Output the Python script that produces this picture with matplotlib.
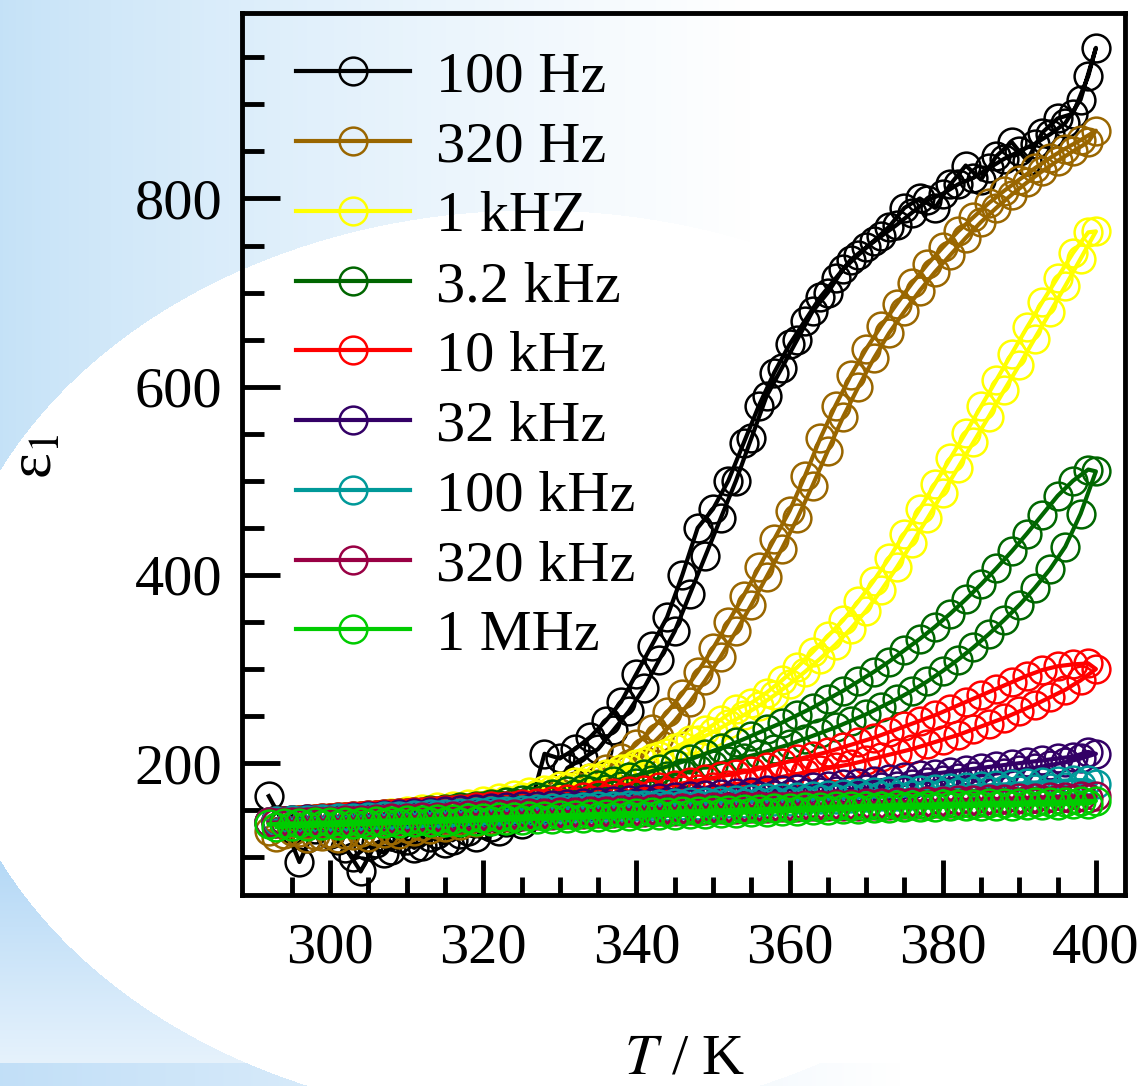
import numpy as np
import matplotlib
matplotlib.use("Agg")
import matplotlib.pyplot as plt
from matplotlib.ticker import MultipleLocator, FixedLocator

plt.rcParams["font.family"] = ["Liberation Serif", "DejaVu Serif"]
plt.rcParams["mathtext.fontset"] = "stix"

# heating run, K
T_up = [292, 294, 296, 298, 300, 302, 304, 306, 308, 310, 312, 314, 316, 318,
        320, 322, 324, 326, 328, 330, 332, 334, 336, 338, 340, 342, 344, 346,
        348, 350, 352, 354, 356, 358, 360, 362, 364, 366, 368, 370, 372, 374,
        376, 378, 380, 382, 384, 386, 388, 390, 392, 394, 396, 398, 400]
# second run, K
T_dn = [293, 295, 297, 299, 301, 303, 305, 307, 309, 311, 313, 315, 317, 319,
        321, 323, 325, 327, 329, 331, 333, 335, 337, 339, 341, 343, 345, 347,
        349, 351, 353, 355, 357, 359, 361, 363, 365, 367, 369, 371, 373, 375,
        377, 379, 381, 383, 385, 387, 389, 391, 393, 395, 397, 399]

labels = ["100 Hz", "320 Hz", "1 kHZ", "3.2 kHz", "10 kHz",
          "32 kHz", "100 kHz", "320 kHz", "1 MHz"]
colors = ["#000000", "#996600", "#ffff00", "#006600", "#ff0000",
          "#330066", "#009999", "#990044", "#00cc00"]

# eps_1 on T_up
up_100Hz = [165, 135, 95, 130, 125, 110, 85, 115, 108, 118, 112, 125, 118, 128,
            135, 128, 142, 150, 210, 205, 215, 228, 245, 265, 295, 325, 355, 400,
            450, 470, 500, 540, 580, 615, 645, 670, 695, 715, 735, 748, 760, 772,
            785, 798, 805, 815, 822, 832, 842, 850, 858, 868, 880, 905, 960]
up_320Hz = [128, 125, 127, 124, 126, 125, 127, 128, 129, 131, 133, 135, 137, 140,
            143, 147, 151, 156, 162, 168, 176, 184, 194, 206, 220, 236, 254, 274,
            297, 322, 350, 378, 408, 438, 468, 505, 545, 580, 612, 640, 665, 688,
            710, 730, 748, 765, 780, 795, 808, 820, 832, 843, 853, 862, 872]
up_1kHz = [138, 139, 140, 141, 142, 143, 144, 145, 147, 149, 151, 153, 155, 157,
           160, 163, 166, 169, 172, 176, 180, 184, 189, 194, 199, 205, 211, 218,
           225, 233, 242, 251, 261, 272, 284, 297, 311, 326, 343, 362, 384, 408,
           434, 460, 487, 514, 541, 568, 596, 623, 651, 679, 707, 736, 765]
up_3k2Hz = [138, 139, 140, 141, 142, 143, 144, 145, 146, 147, 148, 149, 151, 152,
            154, 156, 158, 160, 162, 164, 167, 170, 173, 176, 179, 182, 186, 190,
            194, 198, 202, 206, 210, 215, 220, 226, 232, 238, 245, 252, 260, 268,
            277, 287, 298, 310, 323, 337, 352, 368, 386, 406, 430, 465, 510]
up_10kHz = [138, 139, 140, 141, 142, 143, 144, 145, 146, 147, 148, 149, 150, 151,
            152, 153, 154, 155, 157, 158, 159, 161, 162, 164, 166, 167, 169, 171,
            173, 175, 177, 179, 182, 184, 187, 190, 193, 196, 199, 203, 207, 211,
            215, 220, 225, 230, 236, 242, 248, 255, 262, 270, 278, 288, 300]
up_32kHz = [138, 139, 139, 140, 141, 141, 142, 143, 143, 144, 145, 146, 147, 148,
            149, 150, 150, 151, 152, 153, 154, 155, 156, 157, 158, 158, 159, 160,
            161, 162, 163, 164, 165, 166, 167, 168, 169, 170, 172, 173, 175, 176,
            178, 180, 182, 184, 186, 188, 190, 193, 195, 198, 201, 205, 210]
up_100kHz = [138, 138, 139, 140, 140, 141, 141, 142, 143, 143, 144, 145, 145, 146,
             147, 148, 148, 149, 150, 150, 151, 152, 152, 153, 154, 154, 155, 156,
             156, 157, 158, 158, 159, 160, 160, 161, 162, 162, 163, 164, 165, 165,
             166, 167, 168, 169, 170, 170, 171, 172, 173, 174, 175, 177, 178]
up_320kHz = [137, 137, 138, 139, 139, 140, 140, 141, 142, 142, 143, 143, 144, 145,
             145, 146, 146, 147, 147, 148, 148, 149, 149, 150, 150, 151, 151, 152,
             152, 153, 153, 154, 154, 155, 155, 156, 156, 157, 157, 158, 158, 159,
             159, 160, 160, 161, 161, 162, 162, 163, 163, 164, 164, 165, 165]
up_1MHz = [135, 136, 136, 137, 137, 138, 138, 139, 139, 140, 140, 141, 141, 142,
           142, 143, 143, 144, 144, 145, 145, 146, 146, 147, 147, 148, 148, 149,
           149, 150, 150, 151, 151, 152, 152, 153, 153, 154, 154, 155, 155, 156,
           156, 156, 157, 157, 157, 158, 158, 158, 159, 159, 159, 160, 160]

# eps_1 on T_dn
dn_100Hz = [140, 130, 120, 135, 118, 100, 112, 105, 120, 110, 122, 115, 125, 122,
            132, 138, 135, 150, 165, 195, 205, 215, 235, 255, 280, 310, 340, 380,
            420, 460, 500, 545, 590, 620, 650, 680, 700, 725, 740, 755, 770, 790,
            800, 790, 815, 835, 820, 845, 860, 840, 870, 885, 890, 930]
dn_320Hz = [122, 128, 120, 123, 121, 124, 122, 126, 125, 128, 130, 132, 134, 137,
            140, 143, 147, 152, 157, 163, 170, 178, 188, 199, 212, 228, 245, 265,
            288, 313, 340, 368, 398, 428, 460, 495, 532, 568, 600, 630, 657, 680,
            702, 722, 740, 758, 775, 790, 804, 817, 829, 840, 850, 860]
dn_1kHz = [137, 138, 139, 140, 141, 142, 143, 144, 145, 147, 149, 151, 153, 156,
           158, 161, 164, 167, 171, 175, 179, 184, 189, 195, 201, 208, 216, 225,
           235, 246, 258, 264, 275, 288, 302, 318, 335, 352, 372, 394, 418, 444,
           470, 497, 524, 551, 579, 607, 635, 663, 690, 716, 742, 764]
dn_3k2Hz = [139, 140, 141, 142, 143, 144, 145, 146, 147, 148, 150, 151, 153, 155,
            157, 159, 161, 164, 167, 170, 173, 177, 181, 185, 189, 194, 199, 204,
            210, 216, 222, 229, 236, 243, 251, 259, 268, 277, 287, 297, 308, 320,
            332, 345, 359, 374, 390, 407, 425, 444, 464, 484, 500, 512]
dn_10kHz = [139, 140, 141, 142, 143, 144, 145, 146, 147, 148, 149, 150, 151, 153,
            154, 155, 157, 158, 160, 162, 164, 166, 168, 170, 172, 175, 177, 180,
            183, 186, 189, 192, 196, 200, 204, 208, 212, 217, 222, 227, 233, 239,
            245, 251, 258, 265, 272, 279, 286, 293, 299, 303, 305, 306]
dn_32kHz = [139, 140, 141, 141, 142, 143, 144, 145, 146, 147, 148, 149, 150, 151,
            152, 153, 154, 155, 156, 157, 158, 159, 160, 161, 162, 163, 164, 165,
            166, 167, 168, 169, 171, 172, 173, 175, 176, 178, 179, 181, 183, 185,
            187, 189, 191, 193, 195, 197, 199, 201, 203, 205, 207, 212]
dn_100kHz = [139, 140, 140, 141, 142, 142, 143, 144, 144, 145, 146, 146, 147, 148,
             149, 149, 150, 151, 152, 152, 153, 154, 155, 156, 156, 157, 158, 159,
             159, 160, 161, 162, 163, 163, 164, 165, 166, 167, 168, 169, 170, 171,
             172, 173, 174, 175, 176, 177, 178, 179, 180, 181, 182, 182]
dn_320kHz = [136, 137, 137, 138, 138, 139, 139, 140, 140, 141, 141, 142, 142, 143,
             143, 144, 144, 145, 145, 146, 146, 147, 147, 148, 148, 149, 149, 150,
             150, 151, 151, 152, 152, 153, 153, 154, 154, 155, 155, 156, 156, 157,
             157, 158, 158, 159, 159, 160, 160, 161, 161, 162, 162, 163]
dn_1MHz = [132, 133, 133, 134, 134, 135, 135, 136, 136, 137, 137, 138, 138, 139,
           139, 140, 140, 141, 141, 142, 142, 143, 143, 144, 144, 145, 145, 146,
           146, 147, 147, 148, 148, 149, 149, 150, 150, 151, 151, 152, 152, 153,
           153, 153, 154, 154, 155, 155, 155, 156, 156, 156, 157, 157]

runs_up = [up_100Hz, up_320Hz, up_1kHz, up_3k2Hz, up_10kHz,
           up_32kHz, up_100kHz, up_320kHz, up_1MHz]
runs_dn = [dn_100Hz, dn_320Hz, dn_1kHz, dn_3k2Hz, dn_10kHz,
           dn_32kHz, dn_100kHz, dn_320kHz, dn_1MHz]


def background(fig, W=1144, H=1086):
    # light-blue slide template behind the plot
    yy, xx = np.mgrid[0:H, 0:W].astype(float)
    white = np.ones(3)
    t = np.clip(xx / 750.0, 0, 1) ** 0.8
    img = np.array([0.77, 0.885, 0.97]) * (1 - t)[..., None] + white * t[..., None]
    low = yy > 665
    s = np.clip((yy - 860) / 230.0, 0, 1) * 0.75
    s = np.maximum(s, np.clip(xx / 600.0, 0, 1))
    lowimg = np.array([0.71, 0.85, 0.965]) * (1 - s)[..., None] + white * s[..., None]
    img[low] = lowimg[low]
    band = yy >= 1063
    b = np.clip(xx / 900.0, 0, 1)
    bandimg = np.array([0.76, 0.875, 0.97]) * (1 - b)[..., None] + white * b[..., None]
    img[band] = bandimg[band]
    inside = ((xx - 533) / 590.0) ** 2 + ((yy - 665) / 455.0) ** 2 < 1
    img[inside] = 1.0
    bg = fig.add_axes([0, 0, 1, 1], zorder=-10)
    bg.imshow(img, aspect="auto", interpolation="bilinear")
    bg.axis("off")


fig = plt.figure(figsize=(11.44, 10.86), dpi=100)
background(fig)
ax = fig.add_axes([0.2115, 0.1759, 0.7719, 0.8121])
ax.patch.set_alpha(0)

for up, dn, lab, col in zip(runs_up, runs_dn, labels, colors):
    x = T_up + T_dn[::-1]
    y = up + dn[::-1]
    ax.plot(x, y, color=col, lw=3, marker="o", ms=20, mfc="none",
            mec=col, mew=1.8, label=lab)

ax.set_xlim(288.5, 403.8)
ax.set_ylim(60, 997)
ax.xaxis.set_major_locator(MultipleLocator(20))
ax.xaxis.set_minor_locator(FixedLocator(range(295, 405, 5)))
ax.yaxis.set_major_locator(MultipleLocator(200))
ax.yaxis.set_minor_locator(MultipleLocator(50))
ax.tick_params(which="both", direction="in", width=3.5, labelsize=42,
               top=False, right=False)
ax.tick_params(axis="y", which="major", length=27, pad=14)
ax.tick_params(axis="y", which="minor", length=16)
ax.tick_params(axis="x", which="major", length=25, pad=20)
ax.tick_params(axis="x", which="minor", length=13)
for sp in ax.spines.values():
    sp.set_linewidth(3.5)

ax.set_ylabel("ε$_1$", fontsize=44)
ax.yaxis.set_label_coords(-0.201, 0.497)
fig.text(0.5988, 1 - 1073 / 1086, r"$T$ / K", ha="center", va="baseline",
         fontsize=42)

ax.legend(loc="upper left", bbox_to_anchor=(0.061, 0.957), frameon=False,
          fontsize=42, handlelength=1.95, handletextpad=0.45,
          labelspacing=0.29, borderpad=0, borderaxespad=0)

fig.savefig("out.png", dpi=100)
